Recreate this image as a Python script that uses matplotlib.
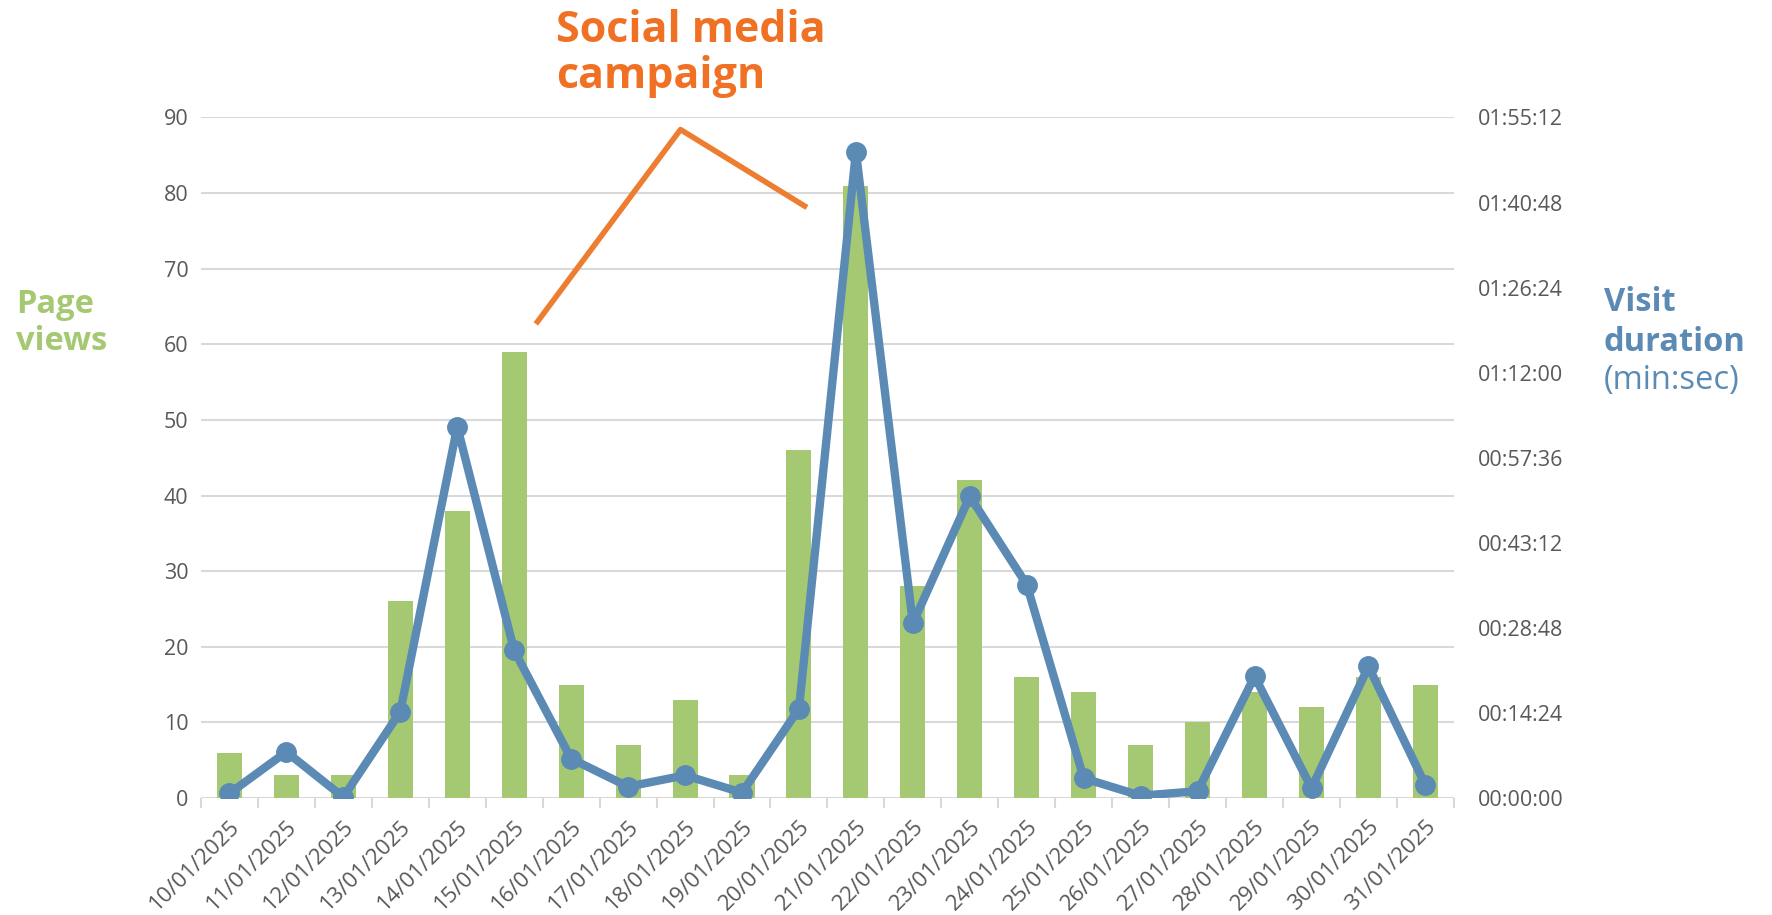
import matplotlib.pyplot as plt
from matplotlib.ticker import FixedLocator, FuncFormatter

# data
dates = ['10/01/2025', '11/01/2025', '12/01/2025', '13/01/2025', '14/01/2025',
         '15/01/2025', '16/01/2025', '17/01/2025', '18/01/2025', '19/01/2025',
         '20/01/2025', '21/01/2025', '22/01/2025', '23/01/2025', '24/01/2025',
         '25/01/2025', '26/01/2025', '27/01/2025', '28/01/2025', '29/01/2025',
         '30/01/2025', '31/01/2025']
page_views = [6, 3, 3, 26, 38, 59, 15, 7, 13, 3, 46, 81, 28, 42, 16, 14, 7, 10, 14, 12, 16, 15]
# visit duration in seconds
visit_secs = [46, 468, 8, 876, 3771, 1498, 399, 115, 230, 54, 906, 6566,
              1774, 3064, 2166, 200, 23, 69, 1236, 100, 1336, 131]
# campaign marker (category position, page-view scale)
campaign_x = [5.38, 7.92, 10.14]
campaign_y = [62.7, 88.4, 78.1]

green = '#A5C972'
blue = '#5B8AB4'
orange = '#ED7D31'
orange_txt = '#F07124'
grey = '#595959'

plt.rcParams['font.family'] = ['Open Sans', 'DejaVu Sans']

fig = plt.figure(figsize=(17.72, 9.15), dpi=100)
ax = fig.add_axes([0.1134, 0.1279, 0.7071, 0.7437])
ax2 = ax.twinx()

x = list(range(len(dates)))
ax.bar(x, page_views, width=0.44, color=green, zorder=2)
ax.set_ylim(0, 90)
ax.set_xlim(-0.5, len(dates) - 0.5)
ax.set_yticks(range(0, 91, 10))
ax.grid(axis='y', color='#D9D9D9', linewidth=1.5, zorder=0)
ax.set_axisbelow(True)

ax2.plot(x, visit_secs, color=blue, linewidth=6, marker='o', markersize=14,
         solid_joinstyle='round', zorder=3)
ax2.set_ylim(0, 6912)
ax2.set_yticks(range(0, 6913, 864))


def hms(v, pos):
    v = int(round(v))
    return '%02d:%02d:%02d' % (v // 3600, (v % 3600) // 60, v % 60)


ax2.yaxis.set_major_formatter(FuncFormatter(hms))

for a in (ax, ax2):
    for s in a.spines.values():
        s.set_visible(False)
    a.tick_params(axis='y', length=0, labelsize=15.5, labelcolor=grey)

ax.tick_params(axis='y', pad=9)
ax2.tick_params(axis='y', pad=17)

ax.set_xticks(x)
ax.set_xticklabels(dates, rotation=45, ha='right', rotation_mode='anchor',
                   fontsize=16, color=grey)
ax.tick_params(axis='x', which='major', length=0, pad=13)
ax.xaxis.set_minor_locator(FixedLocator([i - 0.5 for i in range(len(dates) + 1)]))
ax.tick_params(axis='x', which='minor', length=7, width=1.5, color='#D9D9D9')

# campaign annotation
ax.plot(campaign_x, campaign_y, color=orange, linewidth=4, clip_on=False,
        solid_capstyle='butt', zorder=4)
fig.text(0.314, 0.954, 'Social media', color=orange_txt, fontsize=31,
         fontweight='bold', ha='left', va='baseline')
fig.text(0.314, 0.904, 'campaign', color=orange_txt, fontsize=31,
         fontweight='bold', ha='left', va='baseline')

fig.text(0.009, 0.667, 'Page', color=green, fontsize=23.5, fontweight='bold',
         ha='left', va='center')
fig.text(0.009, 0.627, 'views', color=green, fontsize=23.5, fontweight='bold',
         ha='left', va='center')
fig.text(0.905, 0.669, 'Visit', color=blue, fontsize=23.5, fontweight='bold',
         ha='left', va='center')
fig.text(0.905, 0.626, 'duration', color=blue, fontsize=23.5, fontweight='bold',
         ha='left', va='center')
fig.text(0.905, 0.584, '(min:sec)', color=blue, fontsize=23.5,
         ha='left', va='center')

fig.savefig('out.png', dpi=100)
